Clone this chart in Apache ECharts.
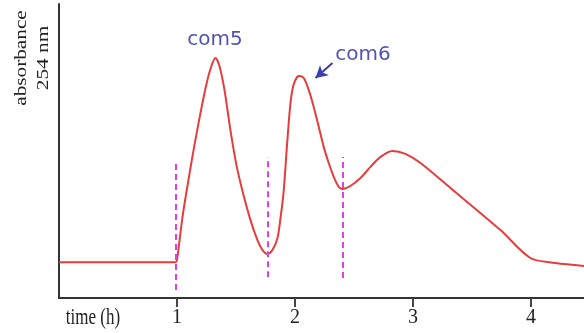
<!DOCTYPE html>
<html>
<head>
<meta charset="utf-8">
<script src="https://cdn.jsdelivr.net/npm/echarts@6/dist/echarts.min.js"></script>
<style>
  html, body { margin: 0; padding: 0; background: #fff; }
  #chart { width: 584px; height: 333px; }
</style>
</head>
<body>
<div id="chart"></div>
<script>
// elution profile, time in hours, absorbance in arbitrary units
const timeH = [0, 0.5, 0.99, 1.0, 1.047, 1.097, 1.148, 1.199, 1.25, 1.292, 1.326, 1.36, 1.403, 1.453,
  1.504, 1.564, 1.623, 1.682, 1.725, 1.767, 1.809, 1.852, 1.88, 1.903, 1.934, 1.962, 1.987, 2.019,
  2.041, 2.075, 2.117, 2.159, 2.202, 2.244, 2.286, 2.329, 2.371, 2.403, 2.47, 2.555, 2.64, 2.725,
  2.826, 2.936, 3.064, 3.318, 3.742, 3.996, 4.208, 4.453]
const absorbance = [0.122, 0.122, 0.122, 0.129, 0.276, 0.401, 0.52, 0.629, 0.728, 0.789, 0.816, 0.789,
  0.707, 0.571, 0.452, 0.35, 0.265, 0.197, 0.163, 0.15, 0.163, 0.204, 0.28, 0.357, 0.527, 0.663,
  0.724, 0.752, 0.755, 0.748, 0.707, 0.65, 0.582, 0.514, 0.459, 0.412, 0.378, 0.371, 0.381, 0.408,
  0.446, 0.48, 0.5, 0.49, 0.459, 0.374, 0.231, 0.136, 0.119, 0.109]

// fraction cut points (dashed lines)
const cutTimes = [0.99, 1.767, 2.403]
const cutLow = [0.027, 0.071, 0.068]
const cutHigh = [0.469, 0.48, 0.48]

const tickValues = [1, 2, 3, 4]

// peak annotations
const peakNames = ['com5', 'com6']
const peakLabelAt = [[1.322, 0.879], [2.576, 0.828]]
const arrowFrom = [2.318, 0.799]
const arrowTo = [2.174, 0.748]

const chart = echarts.init(document.getElementById('chart'))

const cutLines = cutTimes.map((t, i) => [
  { coord: [t, cutLow[i]] },
  { coord: [t, cutHigh[i]] },
])

const option = {
  animation: false,
  grid: { left: 59, right: 0, top: 4, bottom: 35 },
  xAxis: {
    type: 'value',
    min: 0,
    max: 4.45,
    axisLine: { lineStyle: { color: '#333', width: 2 } },
    axisTick: { show: true, length: 9, customValues: tickValues, lineStyle: { color: '#444', width: 2 } },
    axisLabel: {
      customValues: tickValues,
      margin: 10,
      color: '#222',
      fontFamily: 'Liberation Serif',
      fontSize: 20,
    },
    splitLine: { show: false },
  },
  yAxis: {
    type: 'value',
    min: 0,
    max: 1,
    axisLine: { show: true, lineStyle: { color: '#333', width: 2 } },
    axisTick: { show: false },
    axisLabel: { show: false },
    splitLine: { show: false },
  },
  graphic: [
    {
      type: 'text',
      x: 33,
      y: 58,
      rotation: Math.PI / 2,
      scaleX: 1.25,
      style: {
        text: 'absorbance\n254 nm',
        font: '17px "Liberation Serif"',
        fill: '#222',
        align: 'center',
        verticalAlign: 'middle',
        lineHeight: 22,
      },
    },
    {
      type: 'text',
      x: 93,
      y: 318,
      scaleY: 1.35,
      style: {
        text: 'time (h)',
        font: '17px "Liberation Serif"',
        fill: '#222',
        align: 'center',
        verticalAlign: 'middle',
      },
    },
  ],
  series: [
    {
      type: 'line',
      data: timeH.map((t, i) => [t, absorbance[i]]),
      smooth: 0.3,
      showSymbol: false,
      lineStyle: { color: '#e63c3c', width: 2 },
      markLine: {
        silent: true,
        symbol: ['none', 'none'],
        label: { show: false },
        lineStyle: { color: '#e040e8', width: 2, type: [6, 4] },
        data: cutLines,
      },
    },
    {
      type: 'line',
      data: [],
      markPoint: {
        symbol: 'circle',
        symbolSize: 1,
        itemStyle: { color: 'rgba(0,0,0,0)' },
        label: {
          show: true,
          position: 'inside',
          color: '#5252b4',
          fontFamily: 'DejaVu Sans',
          fontSize: 20,
          formatter: (p) => p.name,
        },
        data: peakNames.map((n, i) => ({ name: n, coord: peakLabelAt[i] })),
      },
      markLine: {
        silent: true,
        label: { show: false },
        symbol: ['none', 'arrow'],
        symbolSize: [10, 12],
        lineStyle: { color: '#3c3cb0', width: 2, type: 'solid' },
        data: [[{ coord: arrowFrom }, { coord: arrowTo }]],
      },
    },
  ],
}

chart.setOption(option)
</script>
</body>
</html>
